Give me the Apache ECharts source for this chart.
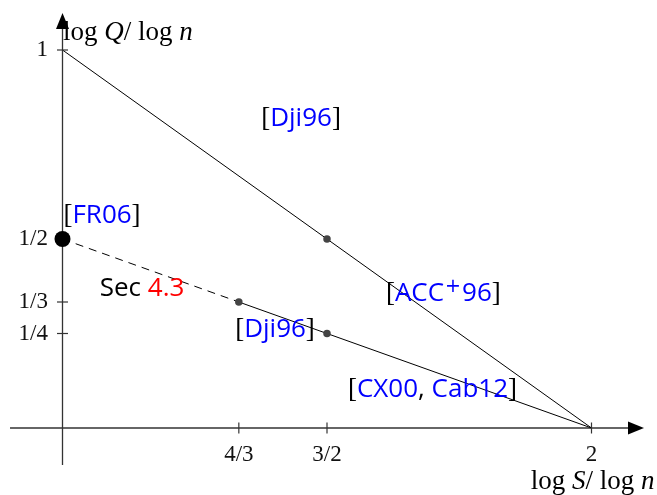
<!DOCTYPE html>
<html>
<head>
<meta charset="utf-8">
<script src="https://cdn.jsdelivr.net/npm/echarts@6/dist/echarts.min.js"></script>
<style>html,body{margin:0;padding:0;background:#fff}#c{width:657px;height:495px}</style>
</head>
<body>
<div id="c"></div>
<script>
// ---- data ----
const upperX = [1, 3/2, 2];
const upperY = [1, 1/2, 0];
const dashedX = [1, 4/3];
const dashedY = [1/2, 1/3];
const lowerX = [4/3, 3/2, 2];
const lowerY = [1/3, 1/4, 0];
const dotX = [3/2, 4/3, 3/2];
const dotY = [1/2, 1/3, 1/4];
const bigDotX = [1];
const bigDotY = [1/2];
const xTicks = [4/3, 3/2, 2];
const xTickLabels = ['4/3', '3/2', '2'];
const yTicks = [1/4, 1/3, 1/2, 1];
const yTickLabels = ['1/4', '1/3', '1/2', '1'];
// annotation texts and anchor values
const annoText = [
  '{b|[}{c|Dji96}{b|]}',
  '{b|[}{c|FR06}{b|]}',
  '{s|Sec }{r|4.3}',
  '{b|[}{c|ACC}{sup|+}{c|96}{b|]}',
  '{b|[}{c|Dji96}{b|]}',
  '{b|[}{c|CX00}{k|, }{c|Cab12}{b|]}'
];
const annoX = [1.4509, 1.0747, 1.1503, 1.7199, 1.4017, 1.6994];
const annoY = [0.8175, 0.5610, 0.3680, 0.3560, 0.2607, 0.1020];
const axisOrigin = [1, 0];
const xAxisStart = 0.9008, xAxisEnd = 2.0841;
const yAxisStart = -0.0979, yAxisEnd = 1.0767;
const yTitleAnchor = [1.0, 1.045];
const xTitleAnchor = [2.12, -0.1429];

const zip = (a, b) => a.map((v, i) => [v, b[i]]);
const serif = 'Liberation Serif';
const rich = {
  b: {fontFamily: serif, fontSize: 27, color: '#000'},
  c: {fontFamily: 'Open Sans', fontSize: 26, color: '#0000ff'},
  k: {fontFamily: 'Open Sans', fontSize: 26, color: '#000'},
  sup: {fontFamily: 'DejaVu Sans', fontSize: 19, color: '#0000ff', padding: [0, 1, 13, 1]},
  s: {fontFamily: 'Open Sans', fontSize: 26, color: '#000'},
  r: {fontFamily: 'Open Sans', fontSize: 26, color: '#ff0000'},
  m: {fontFamily: serif, fontSize: 27, color: '#000'},
  i: {fontFamily: serif, fontSize: 27, fontStyle: 'italic', color: '#000'}
};

const chart = echarts.init(document.getElementById('c'), null, {renderer: 'canvas'});
const axisColor = '#333';
const hidden = {color: 'rgba(0,0,0,0)', opacity: 1};
chart.setOption({
  animation: false,
  grid: {left: 0, right: 0, top: 0, bottom: 0},
  xAxis: {type: 'value', min: 1 - 62.5/529, max: 1 + 594.5/529, show: false},
  yAxis: {type: 'value', min: -67/378, max: 428/378, show: false},
  series: [
    // axes
    {type: 'line', data: [[xAxisStart, axisOrigin[1]], [xAxisEnd, axisOrigin[1]]], showSymbol: false,
     lineStyle: {color: axisColor, width: 1.3, opacity: 1}, z: 1},
    {type: 'line', data: [[axisOrigin[0], yAxisStart], [axisOrigin[0], yAxisEnd]], showSymbol: false,
     lineStyle: {color: axisColor, width: 1.3, opacity: 1}, z: 1},
    // arrow heads
    {type: 'scatter', data: [[xAxisEnd, axisOrigin[1]]], symbol: 'triangle', symbolSize: [13, 16], symbolRotate: -90,
     itemStyle: {color: '#000', opacity: 1}, z: 3},
    {type: 'scatter', data: [[axisOrigin[0], yAxisEnd]], symbol: 'triangle', symbolSize: [13, 16],
     itemStyle: {color: '#000', opacity: 1}, z: 3},
    // ticks
    {type: 'scatter', data: xTicks.map((v, i) => ({value: [v, 0], label: {formatter: xTickLabels[i]}})),
     symbol: 'rect', symbolSize: [1.2, 11], itemStyle: {color: axisColor, opacity: 1},
     label: {show: true, position: 'bottom', distance: 10, fontFamily: serif, fontSize: 23, color: '#111'}},
    {type: 'scatter', data: yTicks.map((v, i) => ({value: [1, v], label: {formatter: yTickLabels[i]}})),
     symbol: 'rect', symbolSize: [11, 1.2], itemStyle: {color: axisColor, opacity: 1},
     label: {show: true, position: 'left', distance: 9, fontFamily: serif, fontSize: 23, color: '#111'}},
    // curves
    {type: 'line', data: zip(upperX, upperY), showSymbol: false, lineStyle: {color: '#000', width: 1, opacity: 1}, z: 2},
    {type: 'line', data: zip(dashedX, dashedY), showSymbol: false, lineStyle: {color: '#000', width: 1, type: [8, 6], opacity: 1}, z: 2},
    {type: 'line', data: zip(lowerX, lowerY), showSymbol: false, lineStyle: {color: '#000', width: 1, opacity: 1}, z: 2},
    {type: 'scatter', data: zip(dotX, dotY), symbolSize: 7.5, itemStyle: {color: '#444', opacity: 1}, z: 4},
    {type: 'scatter', data: zip(bigDotX, bigDotY), symbolSize: 16, itemStyle: {color: '#000', opacity: 1}, z: 4},
    // annotations
    {type: 'scatter', data: annoX.map((x, i) => ({value: [x, annoY[i]], label: {formatter: annoText[i]}})),
     symbolSize: 1, itemStyle: hidden, z: 5,
     label: {show: true, position: 'inside', rich: rich}},
    {type: 'scatter', data: [yTitleAnchor], symbolSize: 1, itemStyle: hidden, z: 5,
     label: {show: true, position: 'right', distance: 0, formatter: '{m|log }{i|Q}{m|/ log }{i|n}', rich: rich}},
    {type: 'scatter', data: [xTitleAnchor], symbolSize: 1, itemStyle: hidden, z: 5,
     label: {show: true, position: 'left', distance: 0, formatter: '{m|log }{i|S}{m|/ log }{i|n}', rich: rich}}
  ]
});
</script>
</body>
</html>
